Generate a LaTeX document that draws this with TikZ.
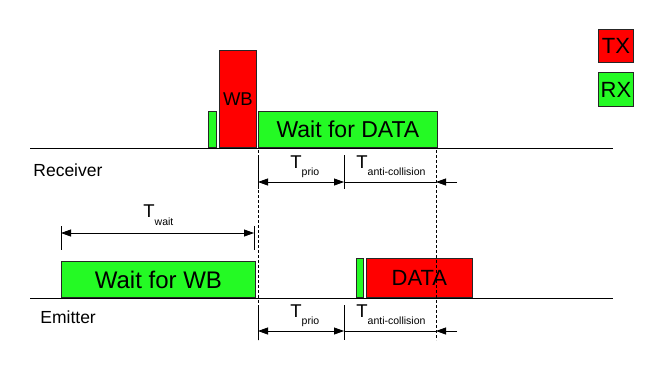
\documentclass[tikz,border=0pt]{standalone}
\usepackage{fontspec}
\setmainfont{Liberation Sans}
\usetikzlibrary{arrows.meta}
\newcommand{\ArrTip}{Triangle[length=10pt,width=7pt]}
\newcommand{\Tsub}[2][7pt]{T\raisebox{-#1}{\fontsize{10.5}{10.5}\selectfont #2}}
\definecolor{txred}{RGB}{255,0,0}
\definecolor{rxgreen}{RGB}{36,250,36}
\tikzset{slot/.style={draw=black!85,line width=.8pt,inner sep=0pt,anchor=south west,font=\fontsize{22}{22}\selectfont}}
\tikzset{tx/.style={slot,fill=txred},rx/.style={slot,fill=rxgreen}}
\tikzset{lbl/.style={inner sep=0pt,anchor=base west,font=\fontsize{18.5}{18.5}\selectfont}}
\tikzset{side/.style={inner sep=0pt,anchor=base west,font=\fontsize{17.5}{17.5}\selectfont}}

\begin{document}
\begin{tikzpicture}[x=1pt,y=-1pt,line width=.8pt]
\useasboundingbox (0,0) rectangle (658,376);
% legend
\node[tx,minimum width=35,minimum height=33] (txkey) at (598,63) {TX};
\node[rx,minimum width=35,minimum height=34] (rxkey) at (598,107) {RX};
% receiver
\coordinate (rl) at (30,148);\coordinate (rr) at (613,148);
\draw (rl)--(rr);
\node[rx,minimum width=8,minimum height=36] (rxa) at (208,148) {};
\node[tx,minimum width=37,minimum height=97,font=\fontsize{18.5}{18.5}\selectfont] (wb) at (219,148) {WB};
\node[rx,minimum width=179,minimum height=36,font=\fontsize{23}{23}\selectfont] (wfd) at (258,148) {Wait for DATA};
\node[side] (rcv) at (33,176) {Receiver};
% emitter
\coordinate (el) at (30,298);\coordinate (er) at (613,298);
\draw (el)--(er);
\node[rx,minimum width=194,minimum height=36,font=\fontsize{24}{24}\selectfont] (wfwb) at (61,298) {Wait for WB};
\node[rx,minimum width=7,minimum height=39] (rxb) at (356,298) {};
\node[tx,minimum width=106,minimum height=39] (data) at (366,298) {DATA};
\node[side] (emt) at (40,323) {Emitter};
% time marks
\coordinate (d1t) at (258,150);\coordinate (d1b) at (258,340);
\coordinate (d2t) at (436,150);\coordinate (d2b) at (436,340);
\draw[line width=.5pt,dash pattern=on 3pt off 2pt] (d1t)--(d1b) (d2t)--(d2b);
\foreach \n/\y/\t/\b/\l in {r/182/155/189/168,e/331/305/340/317}{
  \coordinate (a\n) at (258,\y);\coordinate (b\n) at (344,\y);
  \coordinate (c\n) at (436,\y);\coordinate (f\n) at (457,\y);
  \coordinate (at\n) at (258,\t);\coordinate (ab\n) at (258,\b);
  \coordinate (bt\n) at (344,\t);\coordinate (bb\n) at (344,\b);
  \draw (at\n)--(ab\n) (bt\n)--(bb\n);
  \draw[{\ArrTip}-{\ArrTip}] (a\n)--(b\n);
  \draw (b\n)--(c\n);
  \draw[-{\ArrTip}] (f\n)--(c\n);
  \node[lbl] (tp\n) at (290,\l) {\Tsub{prio}};
  \node[lbl] (tc\n) at (356,\l) {\Tsub{anti-collision}};
}
% wait
\coordinate (w1t) at (61,226);\coordinate (w1b) at (61,250);
\coordinate (w2t) at (254,226);\coordinate (w2b) at (254,250);
\coordinate (w1) at (61,233);\coordinate (w2) at (254,233);
\draw (w1t)--(w1b) (w2t)--(w2b);
\draw[{\ArrTip}-{\ArrTip}] (w1)--(w2);
\node[lbl] (tw) at (143,217) {\Tsub[8pt]{wait}};
\end{tikzpicture}
\end{document}
